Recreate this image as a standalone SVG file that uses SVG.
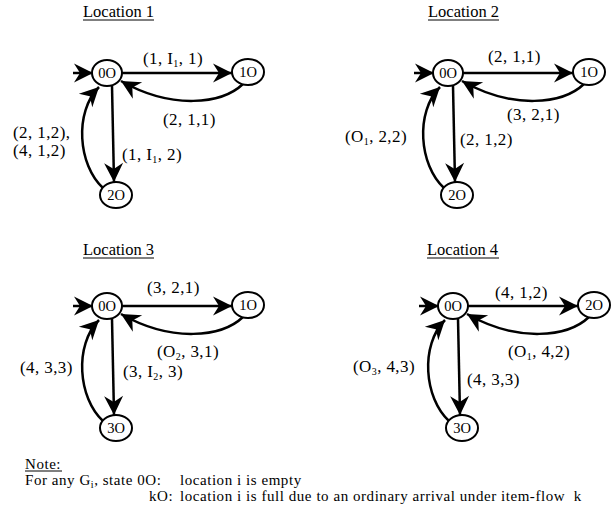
<svg xmlns="http://www.w3.org/2000/svg" width="616" height="508" viewBox="0 0 616 508">
<style>
text{font-family:"Liberation Serif","Times New Roman",serif;fill:#000}
.lbl{font-size:17px;letter-spacing:0.4px}
.ttl{font-size:16.5px}
.nt{font-size:15px;letter-spacing:0.55px}
.nd{font-size:14.5px;text-anchor:middle}
.sub{font-size:10px}
ellipse{fill:#fff;stroke:#000;stroke-width:2}
.e{fill:none;stroke:#000;stroke-width:2.5;marker-end:url(#ah)}
.ul{stroke:#000;stroke-width:1}
</style>
<defs>
<marker id="ah" viewBox="-20 -11 22 22" refX="0" refY="0" markerWidth="22" markerHeight="22" markerUnits="userSpaceOnUse" orient="auto">
<path d="M0,0 L-19,-9.5 L-13,0 L-19,9.5 Z" fill="#000"/>
</marker>
<g id="edges">
<path class="e" d="M73,73 L93,73"/>
<path class="e" d="M122,73 L232,73"/>
<path class="e" d="M243,84 C222,104 172,110 121,81"/>
<path class="e" d="M112,86 L114,182"/>
<path class="e" d="M103,188 C78,165 74,112 99,87"/>
</g>
</defs>

<g id="connectors">
<use href="#edges"/>
<use href="#edges" transform="translate(341,0)"/>
<use href="#edges" transform="translate(0,233)"/>
<use href="#edges" transform="translate(346,233)"/>
</g>

<!-- Location 1 -->
<g id="title1"><text class="ttl" x="83" y="17">Location 1</text><line class="ul" x1="83" y1="20" x2="154" y2="20"/></g>
<g id="l1n0"><ellipse cx="107" cy="73" rx="15" ry="13"/><text class="nd" x="107" y="78">0O</text></g>
<g id="l1n1"><ellipse cx="248" cy="72" rx="16" ry="13"/><text class="nd" x="248" y="77">1O</text></g>
<g id="l1n2"><ellipse cx="116" cy="195" rx="16" ry="13"/><text class="nd" x="116" y="200">2O</text></g>
<g id="l1labels">
<text class="lbl" x="143" y="64">(1, I<tspan class="sub" dy="3">1</tspan><tspan dy="-3">, 1)</tspan></text>
<text class="lbl" x="163" y="125">(2, 1,1)</text>
<text class="lbl" x="122" y="160">(1, I<tspan class="sub" dy="3">1</tspan><tspan dy="-3">, 2)</tspan></text>
<text class="lbl" x="13" y="138">(2, 1,2),</text>
<text class="lbl" x="13" y="156">(4, 1,2)</text>
</g>

<!-- Location 2 -->
<g id="title2"><text class="ttl" x="428" y="17">Location 2</text><line class="ul" x1="428" y1="20" x2="499" y2="20"/></g>
<g id="l2n0"><ellipse cx="448" cy="73" rx="15" ry="13"/><text class="nd" x="448" y="78">0O</text></g>
<g id="l2n1"><ellipse cx="589" cy="72" rx="16" ry="13"/><text class="nd" x="589" y="77">1O</text></g>
<g id="l2n2"><ellipse cx="457" cy="195" rx="16" ry="13"/><text class="nd" x="457" y="200">2O</text></g>
<g id="l2labels">
<text class="lbl" x="488" y="62">(2, 1,1)</text>
<text class="lbl" x="507" y="120">(3, 2,1)</text>
<text class="lbl" x="460" y="145">(2, 1,2)</text>
<text class="lbl" x="345" y="142">(O<tspan class="sub" dy="3">1</tspan><tspan dy="-3">, 2,2)</tspan></text>
</g>

<!-- Location 3 -->
<g id="title3"><text class="ttl" x="83" y="255">Location 3</text><line class="ul" x1="83" y1="258" x2="154" y2="258"/></g>
<g id="l3n0"><ellipse cx="107" cy="306" rx="15" ry="13"/><text class="nd" x="107" y="311">0O</text></g>
<g id="l3n1"><ellipse cx="248" cy="305" rx="16" ry="13"/><text class="nd" x="248" y="310">1O</text></g>
<g id="l3n3"><ellipse cx="116" cy="428" rx="16" ry="13"/><text class="nd" x="116" y="433">3O</text></g>
<g id="l3labels">
<text class="lbl" x="147" y="293">(3, 2,1)</text>
<text class="lbl" x="157" y="357">(O<tspan class="sub" dy="3">2</tspan><tspan dy="-3">, 3,1)</tspan></text>
<text class="lbl" x="20" y="373">(4, 3,3)</text>
<text class="lbl" x="123" y="377">(3, I<tspan class="sub" dy="3">2</tspan><tspan dy="-3">, 3)</tspan></text>
</g>

<!-- Location 4 -->
<g id="title4"><text class="ttl" x="427" y="255">Location 4</text><line class="ul" x1="427" y1="258" x2="499" y2="258"/></g>
<g id="l4n0"><ellipse cx="453" cy="306" rx="15" ry="13"/><text class="nd" x="453" y="311">0O</text></g>
<g id="l4n2"><ellipse cx="594" cy="305" rx="16" ry="13"/><text class="nd" x="594" y="310">2O</text></g>
<g id="l4n3"><ellipse cx="462" cy="428" rx="16" ry="13"/><text class="nd" x="462" y="433">3O</text></g>
<g id="l4labels">
<text class="lbl" x="495" y="298">(4, 1,2)</text>
<text class="lbl" x="508" y="357">(O<tspan class="sub" dy="3">1</tspan><tspan dy="-3">, 4,2)</tspan></text>
<text class="lbl" x="353" y="372">(O<tspan class="sub" dy="3">3</tspan><tspan dy="-3">, 4,3)</tspan></text>
<text class="lbl" x="467" y="385">(4, 3,3)</text>
</g>

<!-- Note -->
<g id="note">
<text class="nt" x="25" y="469">Note:</text>
<line class="ul" x1="25" y1="471" x2="62" y2="471"/>
<text class="nt" x="25" y="485">For any G<tspan class="sub" dy="3">i</tspan><tspan dy="-3">, state 0O:</tspan></text>
<text class="nt" x="180" y="485">location i is empty</text>
<text class="nt" x="149" y="501">kO:</text>
<text class="nt" x="180" y="501">location i is full due to an ordinary arrival under item-flow&#160; k</text>
</g>
</svg>
